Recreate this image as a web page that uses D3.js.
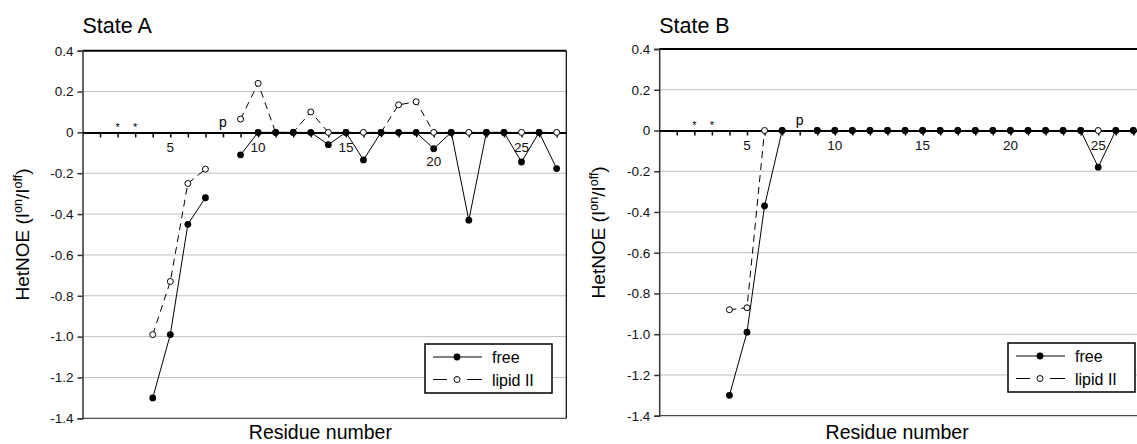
<!DOCTYPE html>
<html>
<head>
<meta charset="utf-8">
<script src="https://cdn.jsdelivr.net/npm/d3@7"></script>
<style>
  body { margin: 0; background: #fff; }
  svg { display: block; font-family: "Liberation Sans", Arial, sans-serif; }
</style>
</head>
<body>
<svg id="chart"></svg>
<script>
// residue numbers along the x axis
const residues = [1, 2, 3, 4, 5, 6, 7, 8, 9, 10, 11, 12, 13, 14, 15, 16, 17, 18, 19, 20, 21, 22, 23, 24, 25, 26, 27];
const xTickLabels = [5, 10, 15, 20, 25];
const yTicks = [0.4, 0.2, 0, -0.2, -0.4, -0.6, -0.8, -1.0, -1.2, -1.4];

// State A (null = no data)
const freeA  = [null, null, null, -1.30, -0.99, -0.45, -0.32, null, -0.11, 0, 0, 0, 0, -0.06, 0, -0.135, 0, 0, 0, -0.08, 0, -0.43, 0, 0, -0.145, 0, -0.177];
const lipidA = [null, null, null, -0.99, -0.73, -0.25, -0.18, null, 0.065, 0.24, 0, 0, 0.10, 0, 0, 0, 0, 0.135, 0.15, 0, 0, 0, 0, 0, 0, 0, 0];

// State B
const freeB  = [null, null, null, -1.30, -0.99, -0.37, 0, null, 0, 0, 0, 0, 0, 0, 0, 0, 0, 0, 0, 0, 0, 0, 0, 0, -0.18, 0, 0];
const lipidB = [null, null, null, -0.88, -0.87, 0, 0, null, 0, 0, 0, 0, 0, 0, 0, 0, 0, 0, 0, 0, 0, 0, 0, 0, 0, 0, 0];

// residue annotations
const marks = [{res: 2, text: '*'}, {res: 3, text: '*'}, {res: 8, text: 'p'}];
const seriesNames = ['free', 'lipid II'];

const svg = d3.select('#chart').attr('width', 1137).attr('height', 444);
svg.append('rect').attr('width', 1137).attr('height', 444).attr('fill', '#fff');

function drawPanel(cfg) {
  const x = d3.scaleLinear().domain([0, 27.55]).range([cfg.left, cfg.left + 483.8]);
  const y = d3.scaleLinear().domain([-1.4, 0.4]).range([cfg.bottom, cfg.top]);
  const g = svg.append('g');

  // gridlines
  g.append('g').selectAll('line')
    .data(yTicks.filter(d => d !== 0 && d !== 0.4 && d !== -1.4))
    .join('line')
      .attr('x1', x(0)).attr('x2', x(27.55))
      .attr('y1', d => y(d)).attr('y2', d => y(d))
      .attr('stroke', '#c0c0c0').attr('stroke-width', 1);

  // plot border (top, bottom, right)
  g.append('line').attr('x1', x(0)).attr('x2', x(27.55)).attr('y1', y(0.4)).attr('y2', y(0.4))
    .attr('stroke', '#000').attr('stroke-width', 2);
  g.append('line').attr('x1', x(0)).attr('x2', x(27.55)).attr('y1', y(-1.4)).attr('y2', y(-1.4))
    .attr('stroke', '#222').attr('stroke-width', 1);
  g.append('line').attr('x1', x(27.55)).attr('x2', x(27.55)).attr('y1', y(0.4)).attr('y2', y(-1.4))
    .attr('stroke', '#000').attr('stroke-width', 1.2);

  // y axis
  const yAxis = d3.axisLeft(y).tickValues(yTicks).tickSize(5).tickPadding(4)
    .tickFormat(d => d === 0 ? '0' : d.toFixed(1));
  const yAxisG = g.append('g').attr('transform', `translate(${x(0)},0)`).call(yAxis);
  yAxisG.select('.domain').attr('stroke', '#333').attr('stroke-width', 1.5);
  yAxisG.selectAll('.tick line').attr('stroke', '#333').attr('stroke-width', 1.5);
  yAxisG.selectAll('text').style('font-size', '13.5px').attr('fill', '#111');

  // x axis on the zero line
  const xAxis = d3.axisBottom(x).tickValues(residues).tickSize(5).tickSizeOuter(0).tickFormat('');
  const xAxisG = g.append('g').attr('transform', `translate(0,${y(0)})`).call(xAxis);
  xAxisG.select('.domain').attr('stroke', '#000').attr('stroke-width', 2);
  xAxisG.selectAll('.tick line').attr('stroke', '#000').attr('stroke-width', 1.5);

  g.append('g').selectAll('text')
    .data(xTickLabels)
    .join('text')
      .attr('x', d => x(d))
      .attr('y', d => y(0) + (cfg.lowLabels.includes(d) ? 34 : 20))
      .attr('text-anchor', 'middle')
      .style('font-size', '13.5px')
      .attr('fill', '#111')
      .text(d => d);

  // annotations
  g.append('g').selectAll('text')
    .data(marks)
    .join('text')
      .attr('x', d => x(d.res))
      .attr('y', d => y(0) + (d.text === '*' ? -1 : -5))
      .attr('text-anchor', 'middle')
      .attr('fill', '#000')
      .style('font-size', d => d.text === '*' ? '11px' : '14px')
      .text(d => d.text);

  const line = d3.line()
    .defined(d => d.v !== null)
    .x(d => x(d.r)).y(d => y(d.v));

  const lipid = residues.map((r, i) => ({r, v: cfg.lipid[i]}));
  const free = residues.map((r, i) => ({r, v: cfg.free[i]}));

  g.append('path').datum(lipid).attr('d', line)
    .attr('fill', 'none').attr('stroke', '#000').attr('stroke-width', 1).attr('stroke-dasharray', '7,5');
  g.append('g').selectAll('circle').data(lipid.filter(d => d.v !== null)).join('circle')
    .attr('cx', d => x(d.r)).attr('cy', d => y(d.v)).attr('r', 3)
    .attr('fill', '#fff').attr('stroke', '#000').attr('stroke-width', 1);

  g.append('path').datum(free).attr('d', line)
    .attr('fill', 'none').attr('stroke', '#000').attr('stroke-width', 1);
  g.append('g').selectAll('circle').data(free.filter(d => d.v !== null)).join('circle')
    .attr('cx', d => x(d.r)).attr('cy', d => y(d.v)).attr('r', 3.4)
    .attr('fill', '#000');

  // titles
  g.append('text').attr('x', cfg.left).attr('y', 33).style('font-size', '21.5px').text(cfg.title);
  g.append('text').attr('x', x(27.55 / 2) - 4).attr('y', 439).attr('text-anchor', 'middle')
    .style('font-size', '19.5px').text('Residue number');

  const yl = g.append('text')
    .attr('transform', `translate(${cfg.left - 54},${(cfg.top + cfg.bottom) / 2}) rotate(-90)`)
    .attr('text-anchor', 'middle').style('font-size', '19px');
  yl.append('tspan').text('HetNOE (I');
  yl.append('tspan').attr('baseline-shift', 'super').style('font-size', '12.5px').text('on');
  yl.append('tspan').text('/I');
  yl.append('tspan').attr('baseline-shift', 'super').style('font-size', '12.5px').text('off');
  yl.append('tspan').text(')');

  // legend
  const lg = g.append('g').attr('transform', `translate(${cfg.legendX},${cfg.legendY})`);
  lg.append('rect').attr('width', 127).attr('height', 49)
    .attr('fill', '#fff').attr('stroke', '#000').attr('stroke-width', 1.5);
  seriesNames.forEach((name, i) => {
    const ly = 13 + i * 22.5;
    if (i === 0) {
      lg.append('line').attr('x1', 8).attr('x2', 57).attr('y1', ly).attr('y2', ly).attr('stroke', '#000');
      lg.append('circle').attr('cx', 32).attr('cy', ly).attr('r', 3.4).attr('fill', '#000');
    } else {
      lg.append('line').attr('x1', 8).attr('x2', 22).attr('y1', ly).attr('y2', ly).attr('stroke', '#000');
      lg.append('line').attr('x1', 42).attr('x2', 57).attr('y1', ly).attr('y2', ly).attr('stroke', '#000');
      lg.append('circle').attr('cx', 32).attr('cy', ly).attr('r', 3)
        .attr('fill', '#fff').attr('stroke', '#000');
    }
    lg.append('text').attr('x', 67).attr('y', ly + 6).style('font-size', '16px').text(name);
  });
}

drawPanel({title: 'State A', left: 82.5, top: 50.7, bottom: 418.3, free: freeA, lipid: lipidA,
  lowLabels: [20], legendX: 425, legendY: 344});
drawPanel({title: 'State B', left: 659.2, top: 49, bottom: 415.7, free: freeB, lipid: lipidB,
  lowLabels: [], legendX: 1008, legendY: 343});
</script>
</body>
</html>
